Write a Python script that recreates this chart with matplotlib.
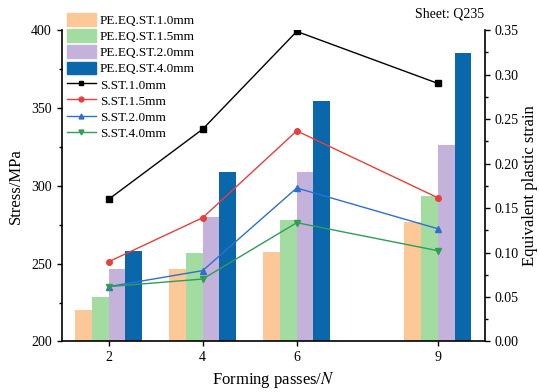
import matplotlib.pyplot as plt
import numpy as np
from matplotlib.patches import Patch
from matplotlib.lines import Line2D

plt.rcParams['font.family'] = ['Liberation Serif', 'DejaVu Serif']
plt.rcParams['mathtext.fontset'] = 'stix'

# Data
passes = [2, 4, 6, 9]
thickness = ['1.0mm', '1.5mm', '2.0mm', '4.0mm']

# equivalent plastic strain (bars, right axis)
strain_10 = [0.035, 0.082, 0.101, 0.134]
strain_15 = [0.050, 0.100, 0.136, 0.164]
strain_20 = [0.081, 0.140, 0.191, 0.221]
strain_40 = [0.102, 0.190, 0.270, 0.324]

# stress (lines, left axis)
stress_10 = [291.3, 336.4, 399.2, 365.8]
stress_15 = [251.2, 279.5, 335.3, 292.3]
stress_20 = [235.2, 245.5, 298.6, 272.4]
stress_40 = [235.2, 240.1, 276.3, 258.3]

bar_colors = ['#FDC898', '#A3DCA1', '#C4B2DA', '#0A67AB']
line_colors = ['black', '#E5403C', '#2F6FCF', '#2E9E57']
markers = ['s', 'o', '^', 'v']

fig = plt.figure(figsize=(5.4, 3.92), dpi=100)
ax = fig.add_axes([0.114, 0.129, 0.784, 0.794])
ax2 = ax.twinx()

# bars on the strain axis
w = 0.355
x = np.array(passes, dtype=float)
strains = [strain_10, strain_15, strain_20, strain_40]
for i, s in enumerate(strains):
    ax2.bar(x + (i - 1.5) * w, s, width=w, color=bar_colors[i], linewidth=0)

# lines on the stress axis
stresses = [stress_10, stress_15, stress_20, stress_40]
for i, s in enumerate(stresses):
    ax.plot(passes, s, color=line_colors[i], marker=markers[i], markersize=4, linewidth=1)

ax.set_zorder(ax2.get_zorder() + 1)
ax.patch.set_visible(False)

ax.set_xlim(1, 10)
ax.set_ylim(200, 400)
ax2.set_ylim(0, 0.35)
ax.set_xticks(passes)
ax.set_yticks(np.arange(200, 401, 50))
ax.set_yticks(np.arange(225, 400, 50), minor=True)
ax2.set_yticks(np.arange(0, 0.351, 0.05))
ax2.set_yticks(np.arange(0.025, 0.35, 0.05), minor=True)
ax2.set_yticklabels(['%.2f' % v for v in np.arange(0, 0.351, 0.05)])

for a in (ax, ax2):
    a.spines['top'].set_visible(False)
    a.tick_params(direction='out', labelsize=10, width=1)
    a.tick_params(which='minor', direction='out', width=1, length=2.5)
ax.spines['right'].set_visible(False)
ax2.spines['left'].set_visible(False)
ax.spines['left'].set_linewidth(1.2)
ax.spines['bottom'].set_linewidth(1.2)
ax2.spines['right'].set_linewidth(1.2)
ax2.spines['bottom'].set_visible(False)

ax.set_xlabel('Forming passes/$\\mathit{N}$', fontsize=12)
ax.set_ylabel('Stress/MPa', fontsize=12, labelpad=5)
ax2.set_ylabel('Equivalent plastic strain', fontsize=12, labelpad=2)

handles = [Patch(color=bar_colors[i], label='PE.EQ.ST.' + thickness[i]) for i in range(4)]
handles += [Line2D([], [], color=line_colors[i], marker=markers[i], markersize=3.5,
                   linewidth=1, label='S.ST.' + thickness[i]) for i in range(4)]
ax.legend(handles=handles, loc='upper left', bbox_to_anchor=(0.0, 1.072), frameon=False,
          fontsize=9.5, handlelength=2.2, handleheight=1.1, labelspacing=0.18,
          handletextpad=0.3, borderaxespad=0)

fig.text(0.768, 0.965, 'Sheet: Q235', fontsize=10, va='center')

plt.savefig('out.png', dpi=100)
